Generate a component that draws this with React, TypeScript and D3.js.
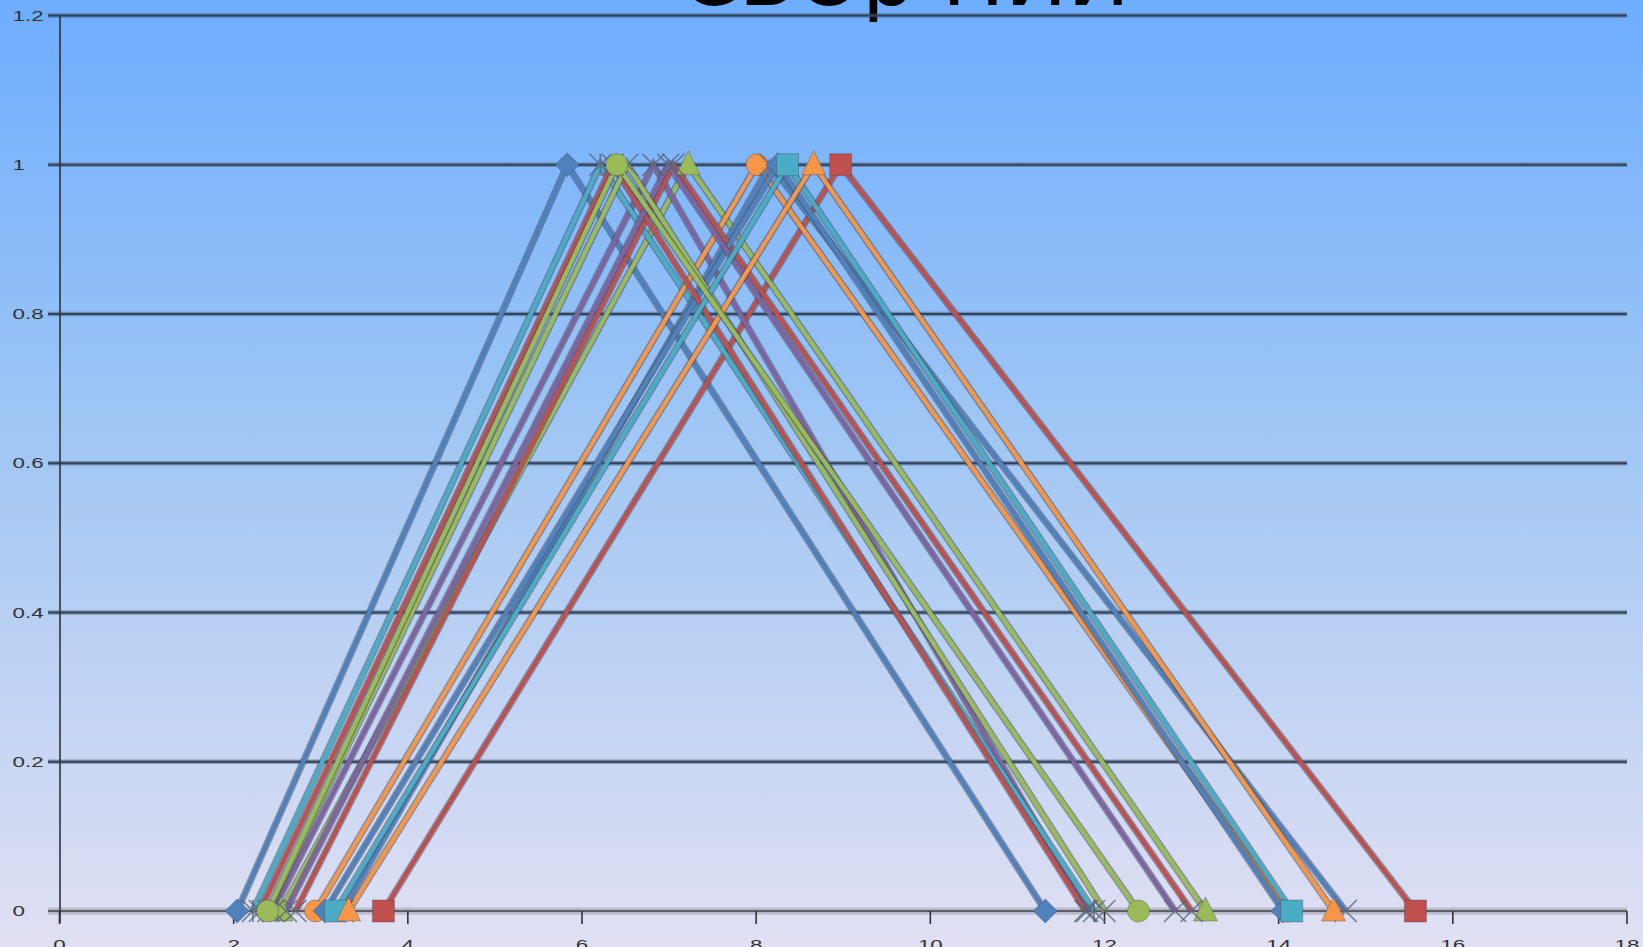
import React from "react";
import * as d3 from "d3";

const W = 1643;
const H = 947;

const titleText = "СВОр НИИ";
const xTicks = [0, 2, 4, 6, 8, 10, 12, 14, 16, 18];
const yTicks = [0, 0.2, 0.4, 0.6, 0.8, 1, 1.2];

// triangular series: (low, 0) -> (peak, 1) -> (high, 0)
const lows = [2.04, 3.72, 2.54, 2.45, 2.22, 2.94, 3.25, 2.71, 3.05, 2.3, 2.6, 2.4, 3.17, 3.32, 2.39];
const peaks = [5.83, 8.97, 7.22, 6.82, 6.21, 8.01, 8.16, 7.05, 8.25, 6.35, 6.99, 6.52, 8.36, 8.66, 6.4];
const highs = [11.32, 15.57, 13.16, 11.8, 11.88, 14.1, 14.77, 13.0, 14.05, 11.78, 12.81, 12.0, 14.15, 14.63, 12.39];

const seriesColors = [
  "#4F81BD", "#C0504D", "#9BBB59", "#8064A2", "#4BACC6", "#F79646",
  "#4F81BD", "#C0504D", "#4F81BD", "#C0504D", "#8064A2", "#9BBB59",
  "#4BACC6", "#F79646", "#9BBB59",
];
const seriesMarkers = [
  "diamond", "square", "triangle", "x", "star", "circle",
  "x", "x", "diamond", "x", "x", "x",
  "square", "triangle", "circle",
];

function Marker({ type, cx, cy, color }: { type: string; cx: number; cy: number; color: string }) {
  const edge = "rgba(60,60,80,0.35)";
  if (type === "diamond") {
    const s = 12;
    return <path d={`M${cx},${cy - s}L${cx + s},${cy}L${cx},${cy + s}L${cx - s},${cy}Z`} fill={color} stroke={edge} strokeWidth={1} />;
  }
  if (type === "square") {
    const s = 11;
    return <rect x={cx - s} y={cy - s} width={2 * s} height={2 * s} fill={color} stroke={edge} strokeWidth={1} />;
  }
  if (type === "triangle") {
    const s = 12;
    return <path d={`M${cx},${cy - s - 2}L${cx + s},${cy + s - 2}L${cx - s},${cy + s - 2}Z`} fill={color} stroke={edge} strokeWidth={1} />;
  }
  if (type === "circle") {
    return <circle cx={cx} cy={cy} r={11} fill={color} stroke={edge} strokeWidth={1} />;
  }
  const s = 11;
  return (
    <g stroke="rgba(90,100,120,0.8)" strokeWidth={1.6} fill="none">
      <line x1={cx - s} y1={cy - s} x2={cx + s} y2={cy + s} />
      <line x1={cx - s} y1={cy + s} x2={cx + s} y2={cy - s} />
      {type === "star" && <line x1={cx} y1={cy - s} x2={cx} y2={cy + s} />}
    </g>
  );
}

export default function App() {
  const x = d3.scaleLinear().domain([0, 18]).range([59.5, 1627]);
  const y = d3.scaleLinear().domain([0, 1.2]).range([911, 15.5]);
  const line = d3
    .line<[number, number]>()
    .x((d) => x(d[0]))
    .y((d) => y(d[1]));

  const series = lows.map((lo, i) => ({
    pts: [
      [lo, 0],
      [peaks[i], 1],
      [highs[i], 0],
    ] as [number, number][],
    color: seriesColors[i],
    marker: seriesMarkers[i],
  }));

  return (
    <svg
      width={W}
      height={H}
      style={{ position: "absolute", left: 0, top: 0, display: "block" }}
      fontFamily="'Liberation Sans', Arial, sans-serif"
    >
      <defs>
        <linearGradient id="bg" x1="0" y1="0" x2="0" y2="1">
          <stop offset="0" stopColor="#6EADFF" />
          <stop offset="0.45" stopColor="#9FC6F4" />
          <stop offset="1" stopColor="#E1E0F3" />
        </linearGradient>
      </defs>
      <rect x={0} y={0} width={W} height={H} fill="url(#bg)" />

      {/* title, mostly clipped by the top edge */}
      <text
        x={680}
        y={5}
        fontSize={80}
        fontFamily="'DejaVu Sans', sans-serif"
        textLength={450}
        lengthAdjust="spacingAndGlyphs"
        fill="#000"
      >
        {titleText}
      </text>

      {/* gridlines */}
      {yTicks.map((t) => (
        <g key={"g" + t}>
          <line x1={48} x2={1627} y1={y(t)} y2={y(t)} stroke={t === 0 ? "#8a8f9a" : "#3a4d66"} strokeOpacity={0.45} strokeWidth={t === 0 ? 7 : 4.5} />
          <line x1={48} x2={1627} y1={y(t)} y2={y(t)} stroke={t === 0 ? "#5c5f66" : "#33445a"} strokeWidth={2} />
        </g>
      ))}

      {/* y axis */}
      <line x1={60} x2={60} y1={15} y2={923} stroke="#333" strokeWidth={1.6} />
      {/* x ticks */}
      {xTicks.map((t) => (
        <line key={"xt" + t} x1={x(t)} x2={x(t)} y1={911} y2={924} stroke="#333" strokeWidth={1.6} />
      ))}

      {/* y labels */}
      {yTicks.map((t) => (
        <text
          key={"yl" + t}
          transform={`translate(12.5,${y(t) + 5}) scale(1.6,1)`}
          fontSize={14}
          fill="#333"
        >
          {String(t)}
        </text>
      ))}
      {/* x labels */}
      {xTicks.map((t) => (
        <text
          key={"xl" + t}
          transform={`translate(${x(t)},${950}) scale(1.6,1)`}
          fontSize={14}
          fill="#333"
          textAnchor="middle"
        >
          {String(t)}
        </text>
      ))}

      {/* series lines */}
      {series.map((s, i) => (
        <g key={"s" + i}>
          <path d={line(s.pts) || ""} fill="none" stroke="rgba(70,80,100,0.55)" strokeWidth={7} strokeLinejoin="miter" />
          <path d={line(s.pts) || ""} fill="none" stroke={s.color} strokeWidth={4.2} strokeLinejoin="miter" />
        </g>
      ))}
      {/* markers */}
      {series.map((s, i) => (
        <g key={"m" + i}>
          {s.pts.map((p, j) => (
            <Marker key={j} type={s.marker} cx={x(p[0])} cy={y(p[1])} color={s.color} />
          ))}
        </g>
      ))}
    </svg>
  );
}
